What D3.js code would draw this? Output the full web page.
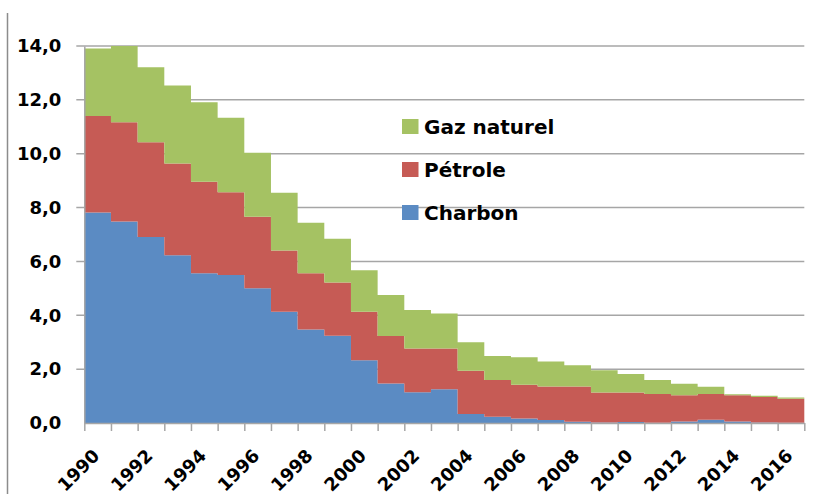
<!DOCTYPE html>
<html>
<head>
<meta charset="utf-8">
<script src="https://cdn.jsdelivr.net/npm/d3@7"></script>
<style>
  body { margin: 0; background: #fff; }
  text { font-family: "DejaVu Sans", Verdana, sans-serif; font-weight: bold; fill: #000; }
</style>
</head>
<body>
<div id="chart"></div>
<script>
// Years and values (stacked: charbon, pétrole, gaz naturel)
const years = d3.range(1990, 2017);
const charbon = [7.82, 7.48, 6.91, 6.23, 5.56, 5.50, 5.00, 4.13, 3.47, 3.24,
    2.33, 1.47, 1.14, 1.25, 0.33, 0.23, 0.17, 0.11, 0.05, 0.02,
    0.04, 0.01, 0.06, 0.12, 0.06, 0.02, 0.01];
const petrole = [3.58, 3.69, 3.52, 3.41, 3.40, 3.07, 2.66, 2.28, 2.09, 1.98,
    1.80, 1.76, 1.63, 1.52, 1.61, 1.37, 1.25, 1.25, 1.31, 1.11,
    1.09, 1.07, 0.97, 0.96, 0.97, 0.95, 0.89];
const gaz = [2.51, 2.83, 2.78, 2.89, 2.95, 2.77, 2.38, 2.14, 1.88, 1.62,
    1.54, 1.52, 1.43, 1.30, 1.06, 0.89, 1.02, 0.92, 0.78, 0.83,
    0.69, 0.52, 0.43, 0.27, 0.04, 0.04, 0.05];
const seriesNames = ["Charbon", "Pétrole", "Gaz naturel"];
const colors = ["#5B8BC3", "#C65B55", "#A5C263"];
const yTicks = [0, 2, 4, 6, 8, 10, 12, 14];
const xLabelYears = years.filter(y => y % 2 === 0);

const width = 834, height = 494;
const margin = { top: 46, right: 30, bottom: 71, left: 84.3 };
const plotRight = 804.3;

const svg = d3.select("#chart")
    .append("svg")
    .attr("width", width)
    .attr("height", height);

// table for d3.stack
const table = years.map((yr, i) => ({
    year: yr, "Charbon": charbon[i], "Pétrole": petrole[i], "Gaz naturel": gaz[i]
}));
const stacked = d3.stack().keys(seriesNames)(table);

// scales
const x = d3.scaleBand()
    .domain(years)
    .range([margin.left, plotRight])
    .padding(0);
const xLin = d3.scaleLinear()
    .domain([1990, 2017])
    .range([margin.left, plotRight]);
const y = d3.scaleLinear()
    .domain([0, 14])
    .range([height - margin.bottom - 0, margin.top]);

// outer left border line
svg.append("line")
    .attr("x1", 7.5).attr("x2", 7.5)
    .attr("y1", 13).attr("y2", height)
    .attr("stroke", "#8c8c8c")
    .attr("stroke-width", 1.5);

// gridlines
svg.selectAll(".grid")
    .data(yTicks.filter(d => d > 0))
    .enter()
    .append("line")
    .attr("class", "grid")
    .attr("x1", margin.left - 8)
    .attr("x2", plotRight)
    .attr("y1", d => y(d))
    .attr("y2", d => y(d))
    .attr("stroke", "#a6a6a6")
    .attr("stroke-width", 1.5);

// step areas
const area = d3.area()
    .curve(d3.curveStepAfter)
    .x(d => d.x)
    .y0(d => y(d.y0))
    .y1(d => y(d.y1));

svg.selectAll(".layer")
    .data(stacked)
    .enter()
    .append("path")
    .attr("class", "layer")
    .attr("fill", (d, i) => colors[i])
    .attr("d", s => {
        const pts = s.map(d => ({ x: x(d.data.year), y0: d[0], y1: d[1] }));
        const last = pts[pts.length - 1];
        pts.push({ x: last.x + x.bandwidth(), y0: last.y0, y1: last.y1 });
        return area(pts);
    });

// y axis
const yAxis = svg.append("g")
    .attr("transform", "translate(" + margin.left + ",0)")
    .call(d3.axisLeft(y)
        .tickValues(yTicks)
        .tickSize(0)
        .tickPadding(23)
        .tickFormat(d => d3.format(".1f")(d).replace(".", ",")));
yAxis.select(".domain").attr("stroke", "#a6a6a6").attr("stroke-width", 1.5);
yAxis.selectAll("text").style("font-size", "18px").attr("fill", "#000");

// x axis: ticks on band boundaries
const xAxis = svg.append("g")
    .attr("transform", "translate(0," + y(0) + ")")
    .call(d3.axisBottom(xLin)
        .tickValues(d3.range(1990, 2018))
        .tickSize(8)
        .tickSizeOuter(0)
        .tickFormat(""));
xAxis.select(".domain").attr("stroke", "#a6a6a6").attr("stroke-width", 1.5);
xAxis.selectAll(".tick line").attr("stroke", "#a6a6a6").attr("stroke-width", 1.5);

// rotated year labels
svg.selectAll(".year-label")
    .data(xLabelYears)
    .enter()
    .append("text")
    .attr("class", "year-label")
    .attr("text-anchor", "end")
    .style("font-size", "18px")
    .attr("transform", d => "translate(" + (x(d) + x.bandwidth() / 2 + 3) + "," + (y(0) + 34) + ") rotate(-45)")
    .text(d => d);

// legend (top to bottom: gaz, pétrole, charbon)
const legendItems = [2, 1, 0];
const legend = svg.selectAll(".legend")
    .data(legendItems)
    .enter()
    .append("g")
    .attr("class", "legend")
    .attr("transform", (d, i) => "translate(402," + (126.5 + i * 43) + ")");
legend.append("rect")
    .attr("x", 0)
    .attr("y", -7.5)
    .attr("width", 16.5)
    .attr("height", 15)
    .attr("fill", d => colors[d]);
legend.append("text")
    .attr("x", 22)
    .attr("y", 7)
    .style("font-size", "20px")
    .text(d => seriesNames[d]);
</script>
</body>
</html>
